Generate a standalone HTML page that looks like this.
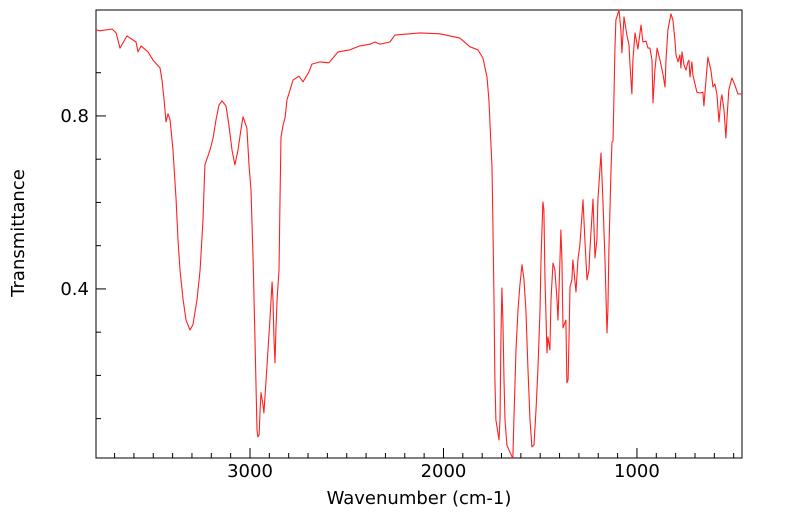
<!DOCTYPE html>
<html><head><meta charset="utf-8"><style>
html,body{margin:0;padding:0;background:#fff;}
svg{display:block;font-family:"DejaVu Sans","Liberation Sans",sans-serif;}
</style></head><body>
<svg id="chart" width="799" height="516" viewBox="0 0 799 516" xmlns="http://www.w3.org/2000/svg">
<rect x="96" y="10" width="646" height="448" fill="none" stroke="#000" stroke-width="1"/>
<g id="ticks"></g>
<g id="labels"></g>
<path id="spectrum" fill="none" stroke="#ff2020" stroke-width="1.1" stroke-linejoin="round"/>
<text x="419" y="504" font-size="18" text-anchor="middle">Wavenumber (cm-1)</text>
<text x="24" y="233" font-size="18" text-anchor="middle" transform="rotate(-90 24 233)">Transmittance</text>
</svg>
<script>
const wavenumbers = [3796,3775,3713,3692,3672,3636,3589,3579,3563,3527,3501,3465,3455,3444,3434,3424,3413,3398,3382,3372,3362,3346,3331,3310,3295,3274,3258,3243,3233,3207,3191,3176,3160,3145,3124,3109,3093,3078,3062,3047,3036,3016,3005,2995,2984,2974,2964,2959,2953,2948,2943,2933,2928,2917,2907,2897,2886,2881,2876,2871,2866,2860,2850,2845,2840,2829,2819,2809,2778,2747,2726,2695,2680,2638,2592,2545,2483,2432,2380,2354,2328,2277,2251,2121,2018,1915,1863,1822,1796,1775,1765,1749,1744,1739,1734,1729,1713,1708,1703,1698,1693,1687,1682,1672,1662,1646,1641,1636,1625,1615,1605,1594,1584,1574,1563,1553,1543,1532,1522,1512,1501,1496,1486,1481,1475,1465,1460,1450,1444,1434,1424,1413,1408,1403,1393,1388,1382,1367,1362,1356,1351,1346,1336,1331,1315,1305,1295,1279,1269,1258,1248,1243,1227,1217,1207,1202,1186,1176,1165,1155,1150,1145,1134,1129,1124,1119,1114,1109,1093,1083,1078,1067,1052,1041,1036,1026,1021,1010,995,979,969,953,943,933,922,917,907,896,881,865,855,850,840,824,814,804,798,788,778,773,767,757,747,736,731,726,716,711,690,674,659,654,643,633,618,607,597,586,576,566,561,550,540,535,525,509,494,478,457];
const transmittance = [0.999,0.997,1.001,0.992,0.957,0.985,0.971,0.948,0.962,0.948,0.929,0.911,0.883,0.837,0.786,0.805,0.791,0.721,0.606,0.513,0.444,0.375,0.328,0.305,0.317,0.375,0.444,0.560,0.687,0.721,0.749,0.791,0.825,0.835,0.823,0.779,0.721,0.687,0.721,0.768,0.798,0.772,0.687,0.629,0.467,0.282,0.074,0.058,0.062,0.120,0.160,0.132,0.113,0.190,0.259,0.328,0.416,0.375,0.282,0.229,0.305,0.375,0.444,0.606,0.751,0.779,0.795,0.837,0.883,0.892,0.879,0.902,0.920,0.925,0.923,0.948,0.953,0.962,0.966,0.971,0.966,0.971,0.987,0.992,0.990,0.980,0.960,0.953,0.934,0.890,0.837,0.682,0.536,0.375,0.190,0.097,0.051,0.097,0.282,0.402,0.328,0.190,0.097,0.039,0.028,0.012,0.012,0.097,0.259,0.351,0.409,0.456,0.421,0.351,0.213,0.097,0.035,0.039,0.120,0.213,0.351,0.467,0.601,0.583,0.421,0.252,0.289,0.259,0.375,0.460,0.444,0.375,0.328,0.398,0.536,0.467,0.310,0.328,0.183,0.190,0.282,0.405,0.421,0.467,0.393,0.467,0.502,0.606,0.513,0.421,0.444,0.490,0.608,0.472,0.513,0.606,0.714,0.606,0.467,0.298,0.351,0.490,0.675,0.740,0.742,0.837,0.953,1.022,1.045,0.999,0.946,1.029,0.987,0.964,0.918,0.851,0.929,0.992,0.955,1.010,0.971,0.973,0.957,0.957,0.929,0.830,0.906,0.957,0.929,0.895,0.867,0.929,0.999,1.036,1.022,0.976,0.941,0.925,0.941,0.911,0.948,0.918,0.906,0.925,0.929,0.890,0.925,0.895,0.855,0.853,0.855,0.823,0.883,0.936,0.906,0.867,0.874,0.849,0.786,0.837,0.849,0.814,0.749,0.791,0.860,0.888,0.872,0.851,0.851];
const xMajorTicks = [3000,2000,1000];
const xMinorTicks = [3700,3600,3500,3400,3300,3200,3100,2900,2800,2700,2600,2500,2400,2300,2200,2100,1900,1800,1700,1600,1500,1400,1300,1200,1100,900,800,700,600,500];
const yMajorTicks = [0.8,0.4];
const yMajorLabels = ["0.8","0.4"];
const xMajorLabels = ["3000","2000","1000"];
const yMinorTicks = [0.1,0.2,0.3,0.5,0.6,0.7,0.9];

const L=96,R=742,T=10,B=458;
const xDom=[3796,457], yDom=[1.045,0.009];
function xs(w){return L+(w-xDom[0])/(xDom[1]-xDom[0])*(R-L);}
function ys(v){return T+(v-yDom[0])/(yDom[1]-yDom[0])*(B-T);}
const NS="http://www.w3.org/2000/svg";
const tg=document.getElementById('ticks'), lg=document.getElementById('labels');
function line(x1,y1,x2,y2,name){
  const l=document.createElementNS(NS,'line');
  l.setAttribute('x1',x1);l.setAttribute('y1',y1);l.setAttribute('x2',x2);l.setAttribute('y2',y2);
  l.setAttribute('stroke','#000');l.setAttribute('stroke-width','1');
  
  
  tg.appendChild(l);
}
function label(x,y,t,anchor,name){
  const e=document.createElementNS(NS,'text');
  e.setAttribute('x',x);e.setAttribute('y',y);e.setAttribute('font-size','18');e.setAttribute('text-anchor',anchor);
  e.textContent=t;
  
  
  lg.appendChild(e);
}
xMajorTicks.forEach((w,i)=>{const x=xs(w);line(x,B,x,B-10,'x-major-tick');label(x,477,xMajorLabels[i],'middle','x-tick-label');});
xMinorTicks.forEach(w=>{const x=xs(w);line(x,B,x,B-5,'x-minor-tick');});
yMajorTicks.forEach((v,i)=>{const y=ys(v);line(L,y,L+10,y,'y-major-tick');label(89,y+6,yMajorLabels[i],'end','y-tick-label');});
yMinorTicks.forEach(v=>{const y=ys(v);line(L,y,L+5,y,'y-minor-tick');});
let d='';
wavenumbers.forEach((w,i)=>{d+=(i?'L':'M')+xs(w).toFixed(1)+' '+ys(transmittance[i]).toFixed(1);});
document.getElementById('spectrum').setAttribute('d',d);
</script>
</body></html>
